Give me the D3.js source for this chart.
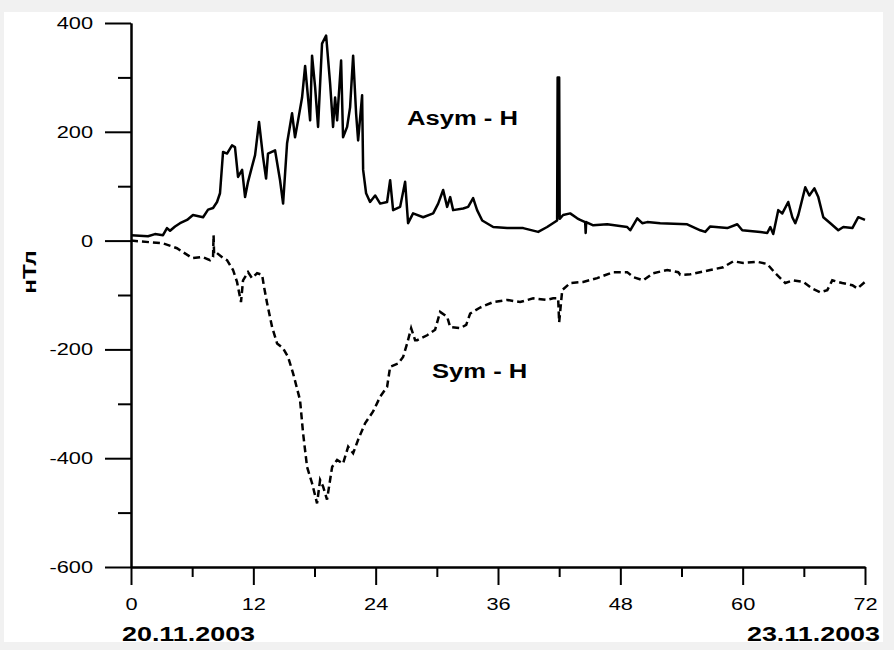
<!DOCTYPE html>
<html><head><meta charset="utf-8">
<script src="https://cdn.jsdelivr.net/npm/d3@7"></script>
<style>
html,body{margin:0;padding:0;background:#f1f1f1;}
svg{display:block;}
text{font-family:"Liberation Sans",Arial,sans-serif;fill:#000;}
</style></head>
<body>
<svg id="chart" width="894" height="650"></svg>
<script>
// ---- data ----
const asymHours = [0,1.67,2.35,3.14,3.53,3.83,4.32,4.81,5.5,6.08,7.07,7.56,8.05,8.44,8.73,9.03,9.42,9.91,10.2,10.5,10.9,11.19,11.48,11.87,12.17,12.56,12.95,13.25,13.44,14.13,14.62,14.92,15.31,15.8,16.09,16.39,16.78,17.08,17.57,17.76,18.06,18.35,18.74,19.14,19.53,19.82,20.02,20.22,20.61,20.8,21.2,21.49,21.79,22.08,22.28,22.67,22.77,23.06,23.45,23.95,24.44,25.12,25.42,25.71,26.4,26.89,27.18,27.67,28.66,29.64,30.13,30.62,31.01,31.31,31.6,32.58,33.07,33.56,33.95,34.45,35.53,36.9,38.47,39.94,40.82,41.8,41.85,42.0,42.05,42.39,43.08,43.77,44.06,44.55,44.6,44.65,45.34,46.71,48.67,48.97,49.66,50.15,50.64,51.91,54.56,55.84,56.33,56.82,58.49,59.47,59.96,61.73,62.41,62.71,63.0,63.49,63.89,64.47,64.87,65.16,65.46,66.14,66.54,67.03,67.42,67.91,68.6,69.38,69.87,70.76,71.34,72];
const asymValues = [10,8,12,10,23,18,26,32,38,47,43,57,60,71,87,163,160,175,172,117,130,80,108,136,157,218,154,114,160,166,111,68,179,234,190,221,263,321,221,340,282,209,362,377,289,209,263,221,331,190,209,245,340,234,184,267,130,87,71,83,68,71,111,56,62,108,32,50,43,50,68,93,62,80,56,59,62,78,56,37,25,23,23,16,25,37,300,300,40,47,50,41,38,34,14,34,28,30,25,19,41,32,34,32,30,19,16,26,23,30,19,16,14,25,12,56,50,71,43,32,47,98,83,96,80,43,32,19,25,23,43,38];
const symHours = [0,3.14,4.51,5.99,6.97,7.75,8.05,8.1,8.15,8.44,9.03,9.42,10.01,10.4,10.79,10.99,11.48,11.87,12.37,12.86,13.05,13.35,13.84,14.33,14.92,15.41,15.9,16.58,16.88,17.27,17.76,18.25,18.55,18.84,19.23,19.73,20.22,20.8,21.3,21.79,22.28,22.96,23.75,24.44,25.12,25.42,26.2,26.69,27.09,27.48,27.87,28.07,29.05,29.83,30.32,31.01,31.31,32.29,32.88,33.27,34.25,35.53,36.9,38.17,39.45,40.82,41.41,41.9,42.0,42.3,43.08,44.36,45.73,47.3,48.67,49.26,50.25,51.23,52.6,53.68,53.88,54.86,56.82,58.1,59.08,60.06,61.43,62.41,63.2,64.18,64.96,65.95,66.83,67.62,68.3,68.79,69.77,70.76,71.25,72];
const symValues = [0,-5,-14,-32,-30,-36,-30,10,-25,-23,-32,-36,-54,-76,-113,-73,-58,-69,-60,-63,-85,-115,-159,-189,-198,-214,-244,-293,-354,-416,-446,-483,-440,-452,-476,-416,-403,-410,-379,-391,-366,-336,-314,-287,-269,-232,-226,-214,-189,-161,-183,-183,-174,-164,-131,-140,-159,-161,-155,-134,-123,-113,-109,-113,-106,-109,-106,-106,-150,-91,-78,-76,-69,-58,-58,-67,-73,-60,-54,-58,-63,-62,-54,-49,-38,-41,-39,-43,-60,-78,-73,-76,-88,-95,-91,-73,-78,-82,-88,-76];
const xTicks = [0,12,24,36,48,60,72];
const xMinorTicks = [6,18,30,42,54,66];
const yTicks = [-600,-400,-200,0,200,400];
const yMinorTicks = [-500,-300,-100,100,300];
const yLabel = "нТл";
const asymLabel = "Asym - H";
const symLabel = "Sym - H";
const startDate = "20.11.2003";
const endDate = "23.11.2003";

// ---- drawing ----
const svg = d3.select("#chart");
const STRETCH = 1.28;
svg.append("rect").attr("x",4).attr("y",12).attr("width",879).attr("height",630).attr("fill","#fff");

const x = d3.scaleLinear().domain([0,72]).range([131,865]);
const y = d3.scaleLinear().domain([-600,400]).range([567,23]);

// minor ticks
svg.append("g").attr("transform","translate(131,0)")
  .call(d3.axisLeft(y).tickValues(yMinorTicks).tickSize(13).tickSizeOuter(0).tickFormat(""));
svg.append("g").attr("transform","translate(0,567)")
  .call(d3.axisBottom(x).tickValues(xMinorTicks).tickSize(10).tickSizeOuter(0).tickFormat(""));
// major
const gy = svg.append("g").attr("transform","translate(131,0)")
  .call(d3.axisLeft(y).tickValues(yTicks).tickSize(26).tickSizeOuter(0).tickPadding(12).tickFormat(d=>String(d)));
const gx = svg.append("g").attr("transform","translate(0,567)")
  .call(d3.axisBottom(x).tickValues(xTicks).tickSize(18).tickSizeOuter(0).tickPadding(13).tickFormat(d=>String(d)));

svg.selectAll(".domain, .tick line").attr("stroke","#000").attr("stroke-width",2);
gy.selectAll("text").attr("font-size",17).attr("class","stretch").attr("font-family",null);
gx.selectAll("text").attr("font-size",17).attr("class","stretch").attr("font-family",null);

const line = d3.line().x(d=>x(d[0])).y(d=>y(d[1]));
svg.append("path").datum(asymHours.map((h,i)=>[h,asymValues[i]]))
  .attr("d",line).attr("fill","none").attr("stroke","#000").attr("stroke-width",2.5).attr("stroke-linejoin","round");
svg.append("path").datum(symHours.map((h,i)=>[h,symValues[i]]))
  .attr("d",line).attr("fill","none").attr("stroke","#000").attr("stroke-width",2.5)
  .attr("stroke-dasharray","7,4");

svg.append("text").attr("class","stretch").attr("x",407).attr("y",125).attr("font-size",20).attr("font-weight","bold").text(asymLabel);
svg.append("text").attr("class","stretch").attr("x",432).attr("y",378).attr("font-size",20).attr("font-weight","bold").text(symLabel);
svg.append("text").attr("class","stretch").attr("x",122).attr("y",641).attr("font-size",21).attr("font-weight","bold").text(startDate);
svg.append("text").attr("class","stretch").attr("x",880).attr("y",641).attr("text-anchor","end").attr("font-size",21).attr("font-weight","bold").text(endDate);
svg.append("text").attr("class","stretch").attr("transform","translate(36,272) rotate(-90)").attr("text-anchor","middle")
  .attr("font-size",19).attr("font-weight","bold").text(yLabel);

svg.selectAll("text.stretch").each(function(){
  const len = this.getComputedTextLength();
  d3.select(this).attr("textLength",len*STRETCH).attr("lengthAdjust","spacingAndGlyphs");
});
</script>
</body></html>
